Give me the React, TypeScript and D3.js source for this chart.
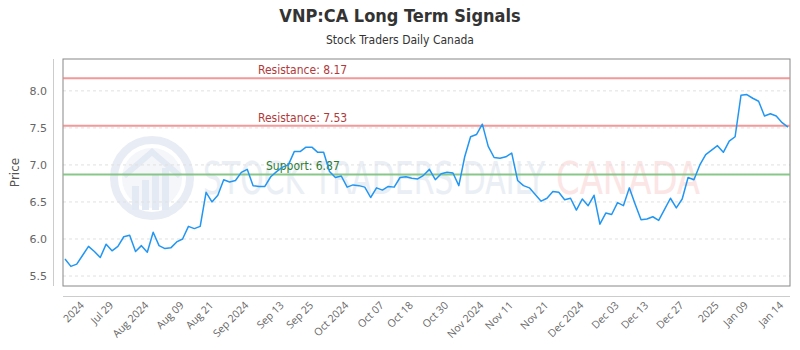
import React from "react";
import * as d3 from "d3";

// daily closes
const prices = [
  5.73, 5.63, 5.66, 5.78, 5.9, 5.83, 5.75, 5.93, 5.84, 5.9,
  6.03, 6.05, 5.83, 5.91, 5.82, 6.09, 5.91, 5.87, 5.88, 5.96,
  6.0, 6.17, 6.14, 6.17, 6.63, 6.5, 6.59, 6.8, 6.77, 6.79,
  6.9, 6.94, 6.72, 6.71, 6.71, 6.84, 6.91, 6.97, 7.0, 7.18,
  7.18, 7.24, 7.24, 7.17, 7.17, 6.91, 6.83, 6.85, 6.7, 6.73,
  6.72, 6.7, 6.56, 6.69, 6.66, 6.71, 6.7, 6.83, 6.84, 6.82,
  6.81, 6.86, 6.94, 6.8, 6.88, 6.9, 6.89, 6.72, 7.11, 7.38,
  7.41, 7.55, 7.25, 7.1, 7.09, 7.11, 7.16, 6.79, 6.72, 6.69,
  6.6, 6.51, 6.55, 6.64, 6.63, 6.53, 6.55, 6.39, 6.54, 6.45,
  6.59, 6.2, 6.35, 6.33, 6.49, 6.45, 6.69, 6.47, 6.26, 6.27,
  6.3, 6.25, 6.4, 6.55, 6.42, 6.54, 6.83, 6.8, 7.0, 7.14,
  7.2, 7.26, 7.17, 7.32, 7.38, 7.94, 7.95, 7.9, 7.86, 7.66,
  7.69, 7.66, 7.57, 7.51,
];

const tickLabels = [
  "2024", "Jul 29", "Aug 2024", "Aug 09", "Aug 21", "Sep 2024", "Sep 13", "Sep 25",
  "Oct 2024", "Oct 07", "Oct 18", "Oct 30", "Nov 2024", "Nov 11", "Nov 21", "Dec 2024",
  "Dec 03", "Dec 13", "Dec 27", "2025", "Jan 09", "Jan 14",
];
const tickIndex = [3, 8, 14, 20, 25, 31, 37, 42, 48, 54, 59, 65, 71, 76, 82, 88, 94, 99, 105, 111, 116, 122];

const yTicks = [5.5, 6.0, 6.5, 7.0, 7.5, 8.0];
const resistance = [8.17, 7.53];
const support = [6.87];

const W = 800;
const H = 350;
const plot = { left: 63, right: 790, top: 59, bottom: 286 };

const narrow = "'Liberation Sans Narrow', 'DejaVu Sans Condensed', sans-serif";

export default function App() {
  const x = d3.scaleLinear().domain([0, prices.length - 1]).range([plot.left + 2, plot.right - 2]);
  const y = d3.scaleLinear().domain([5.365, 8.43]).range([plot.bottom, plot.top]);

  const line = d3
    .line<number>()
    .x((_, i) => x(i))
    .y((d) => y(d));

  const fmt = d3.format(".1f");

  return (
    <svg
      width={W}
      height={H}
      style={{ position: "absolute", left: 0, top: 0, background: "#fff" }}
    >
      {/* title */}
      <text x={W / 2} y={22} textAnchor="middle" fontFamily={narrow} fontWeight="bold" fontSize={18} fill="#333">
        VNP:CA Long Term Signals
      </text>
      <text x={W / 2} y={44} textAnchor="middle" fontFamily={narrow} fontSize={12} fill="#333">
        Stock Traders Daily Canada
      </text>

      {/* watermark */}
      <g opacity={0.9}>
        <circle cx={152} cy={178} r={38} fill="none" stroke="#e6ebf4" strokeWidth={8} />
        <circle cx={152} cy={178} r={30} fill="#f4f6fa" />
        <path d="M124,176 L152,152 L180,176" fill="none" stroke="#e2e8f2" strokeWidth={6} />
        {[0, 1, 2, 3].map((k) => (
          <rect key={k} x={132 + k * 10} y={186 - k * 6} width={7} height={24 + k * 6} fill="#e2e8f2" />
        ))}
        <text x={203} y={194} fontFamily={narrow} fontSize={44} fill="#e8edf5" textLength={342} lengthAdjust="spacingAndGlyphs">
          STOCK TRADERS DAILY
        </text>
        <text x={556} y={194} fontFamily={narrow} fontSize={44} fill="#fbe3e3" textLength={144} lengthAdjust="spacingAndGlyphs">
          CANADA
        </text>
      </g>

      {/* grid */}
      {yTicks.map((t) => (
        <line key={t} x1={plot.left} x2={plot.right} y1={y(t)} y2={y(t)} stroke="#e0e0e0" strokeDasharray="3,3" />
      ))}

      {/* frame and axes */}
      <rect
        x={plot.left}
        y={plot.top}
        width={plot.right - plot.left}
        height={plot.bottom - plot.top}
        fill="none"
        stroke="#888"
        strokeWidth={1}
      />
      <line x1={53.5} x2={53.5} y1={plot.top} y2={plot.bottom} stroke="#ccc" />
      <line x1={plot.left} x2={plot.right} y1={296.5} y2={296.5} stroke="#ccc" />

      {yTicks.map((t) => (
        <text key={t} x={47} y={y(t)} dy="0.35em" textAnchor="end" fontFamily="'DejaVu Sans', sans-serif" fontSize={11} fill="#666">
          {fmt(t)}
        </text>
      ))}
      <text
        transform={`translate(19,${(plot.top + plot.bottom) / 2}) rotate(-90)`}
        textAnchor="middle"
        fontFamily="'DejaVu Sans', sans-serif"
        fontSize={12}
        fill="#555"
      >
        Price
      </text>

      {tickIndex.map((ti, k) => (
        <text
          key={k}
          transform={`translate(${x(ti) + 2},306) rotate(-45)`}
          textAnchor="end"
          fontFamily="'Open Sans', sans-serif"
          fontSize={10.5}
          fill="#666"
        >
          {tickLabels[k]}
        </text>
      ))}

      {/* signal levels */}
      {resistance.map((r) => (
        <g key={r}>
          <line x1={plot.left} x2={plot.right} y1={y(r)} y2={y(r)} stroke="#f08080" strokeOpacity={0.8} strokeWidth={2} />
          <text x={258} y={y(r) - 4} fontFamily={narrow} fontSize={12} fill="#b03a3a">
            {`Resistance: ${r.toFixed(2)}`}
          </text>
        </g>
      ))}
      {support.map((s) => (
        <g key={s}>
          <line x1={plot.left} x2={plot.right} y1={y(s)} y2={y(s)} stroke="#7cc17c" strokeOpacity={0.9} strokeWidth={2} />
          <text x={266} y={y(s) - 5} fontFamily={narrow} fontSize={12} fill="#2e7d32">
            {`Support: ${s.toFixed(2)}`}
          </text>
        </g>
      ))}

      {/* price line */}
      <path d={line(prices) ?? ""} fill="none" stroke="#2196f3" strokeWidth={1.5} strokeLinejoin="round" />
    </svg>
  );
}
